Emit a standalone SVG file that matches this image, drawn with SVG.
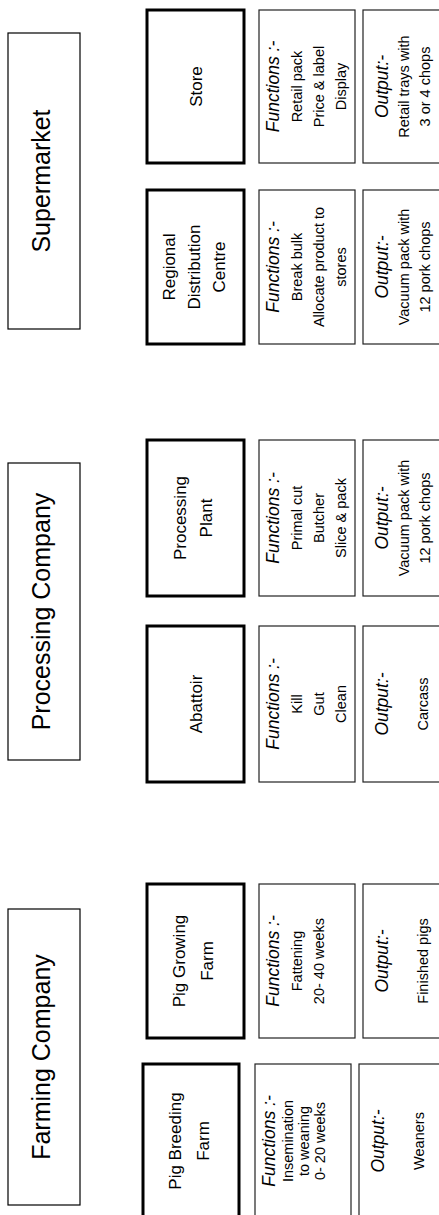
<svg xmlns="http://www.w3.org/2000/svg" width="439" height="1215" viewBox="0 0 439 1215">
  <style>
    .company { fill: #fff; stroke: #000; stroke-width: 1.2; }
    .entity { fill: #fff; stroke: #000; stroke-width: 3; }
    .info { fill: #fff; stroke: #222; stroke-width: 1.2; }
    text { font-family: "Liberation Sans", Arial, sans-serif; fill: #000; text-anchor: middle; }
    .title { font-size: 25px; }
    .lbl { font-size: 17px; }
    .head { font-size: 17.5px; font-style: italic; }
    .item { font-size: 14.5px; }
  </style>

  <!-- Company bands (all text runs bottom-to-top) -->
  <g id="supermarket" transform="translate(44,181) rotate(-90)">
    <rect class="company" x="-148" y="-36" width="296" height="72"/>
    <text class="title" x="0" y="6">Supermarket</text>
  </g>
  <g id="processing-company" transform="translate(44,611.5) rotate(-90)">
    <rect class="company" x="-148.5" y="-36" width="297" height="72"/>
    <text class="title" x="0" y="6">Processing Company</text>
  </g>
  <g id="farming-company" transform="translate(44,1057) rotate(-90)">
    <rect class="company" x="-148" y="-36" width="296" height="72"/>
    <text class="title" x="0" y="6">Farming Company</text>
  </g>

  <!-- Store -->
  <g id="store" transform="translate(195.5,86.5) rotate(-90)">
    <rect class="entity" x="-76.5" y="-48.5" width="153" height="97"/>
    <text class="lbl" x="0" y="6">Store</text>
  </g>
  <g id="store-functions" transform="translate(307,86.5) rotate(-90)">
    <rect class="info" x="-76.5" y="-48" width="153" height="96"/>
    <text class="head" x="0" y="-28">Functions :-</text>
    <text class="item" x="0" y="-5">Retail pack</text>
    <text class="item" x="0" y="17">Price &amp; label</text>
    <text class="item" x="0" y="39">Display</text>
  </g>
  <g id="store-output" transform="translate(411,86.5) rotate(-90)">
    <rect class="info" x="-76.5" y="-48" width="153" height="96"/>
    <text class="head" x="0" y="-23">Output:-</text>
    <text class="item" x="0" y="-2">Retail trays with</text>
    <text class="item" x="0" y="19">3 or 4 chops</text>
  </g>

  <!-- Regional Distribution Centre -->
  <g id="rdc" transform="translate(195.5,267) rotate(-90)">
    <rect class="entity" x="-77" y="-48.5" width="154" height="97"/>
    <text class="lbl" x="0" y="-20.5">Regional</text>
    <text class="lbl" x="0" y="4.5">Distribution</text>
    <text class="lbl" x="0" y="29.5">Centre</text>
  </g>
  <g id="rdc-functions" transform="translate(307,267) rotate(-90)">
    <rect class="info" x="-77" y="-48" width="154" height="96"/>
    <text class="head" x="0" y="-28">Functions :-</text>
    <text class="item" x="0" y="-5">Break bulk</text>
    <text class="item" x="0" y="17">Allocate product to</text>
    <text class="item" x="0" y="39">stores</text>
  </g>
  <g id="rdc-output" transform="translate(411,267) rotate(-90)">
    <rect class="info" x="-77" y="-48" width="154" height="96"/>
    <text class="head" x="0" y="-23">Output:-</text>
    <text class="item" x="0" y="-2">Vacuum pack with</text>
    <text class="item" x="0" y="19">12 pork chops</text>
  </g>

  <!-- Processing Plant -->
  <g id="processing-plant" transform="translate(195.5,518) rotate(-90)">
    <rect class="entity" x="-78" y="-48.5" width="156" height="97"/>
    <text class="lbl" x="0" y="-10">Processing</text>
    <text class="lbl" x="0" y="16.5">Plant</text>
  </g>
  <g id="plant-functions" transform="translate(307,518) rotate(-90)">
    <rect class="info" x="-78" y="-48" width="156" height="96"/>
    <text class="head" x="0" y="-28">Functions :-</text>
    <text class="item" x="0" y="-5">Primal cut</text>
    <text class="item" x="0" y="17">Butcher</text>
    <text class="item" x="0" y="39">Slice &amp; pack</text>
  </g>
  <g id="plant-output" transform="translate(411,518) rotate(-90)">
    <rect class="info" x="-78" y="-48" width="156" height="96"/>
    <text class="head" x="0" y="-23">Output:-</text>
    <text class="item" x="0" y="-2">Vacuum pack with</text>
    <text class="item" x="0" y="19">12 pork chops</text>
  </g>

  <!-- Abattoir -->
  <g id="abattoir" transform="translate(195.5,704) rotate(-90)">
    <rect class="entity" x="-78" y="-48.5" width="156" height="97"/>
    <text class="lbl" x="0" y="6.5">Abattoir</text>
  </g>
  <g id="abattoir-functions" transform="translate(307,704) rotate(-90)">
    <rect class="info" x="-78" y="-48" width="156" height="96"/>
    <text class="head" x="0" y="-28">Functions :-</text>
    <text class="item" x="0" y="-5">Kill</text>
    <text class="item" x="0" y="17">Gut</text>
    <text class="item" x="0" y="39">Clean</text>
  </g>
  <g id="abattoir-output" transform="translate(411,704) rotate(-90)">
    <rect class="info" x="-78" y="-48" width="156" height="96"/>
    <text class="head" x="0" y="-23">Output:-</text>
    <text class="item" x="0" y="17">Carcass</text>
  </g>

  <!-- Pig Growing Farm -->
  <g id="pig-growing-farm" transform="translate(195.5,961) rotate(-90)">
    <rect class="entity" x="-77" y="-48.5" width="154" height="97"/>
    <text class="lbl" x="0" y="-10.5">Pig Growing</text>
    <text class="lbl" x="0" y="17.5">Farm</text>
  </g>
  <g id="growing-functions" transform="translate(307,961) rotate(-90)">
    <rect class="info" x="-77" y="-48" width="154" height="96"/>
    <text class="head" x="0" y="-28">Functions :-</text>
    <text class="item" x="0" y="-5">Fattening</text>
    <text class="item" x="0" y="17">20- 40 weeks</text>
  </g>
  <g id="growing-output" transform="translate(411,961) rotate(-90)">
    <rect class="info" x="-77" y="-48" width="154" height="96"/>
    <text class="head" x="0" y="-23">Output:-</text>
    <text class="item" x="0" y="17">Finished pigs</text>
  </g>

  <!-- Pig Breeding Farm -->
  <g id="pig-breeding-farm" transform="translate(191,1141) rotate(-90)">
    <rect class="entity" x="-77" y="-48" width="154" height="96"/>
    <text class="lbl" x="0" y="-10">Pig Breeding</text>
    <text class="lbl" x="0" y="18">Farm</text>
  </g>
  <g id="breeding-functions" transform="translate(303,1141) rotate(-90)">
    <rect class="info" x="-77" y="-48" width="154" height="96"/>
    <text class="head" x="0" y="-28">Functions :-</text>
    <text class="item" x="0" y="-10">Insemination</text>
    <text class="item" x="0" y="6">to weaning</text>
    <text class="item" x="0" y="22">0- 20 weeks</text>
  </g>
  <g id="breeding-output" transform="translate(407,1141) rotate(-90)">
    <rect class="info" x="-77" y="-48" width="154" height="96"/>
    <text class="head" x="0" y="-23">Output:-</text>
    <text class="item" x="0" y="17">Weaners</text>
  </g>
</svg>
